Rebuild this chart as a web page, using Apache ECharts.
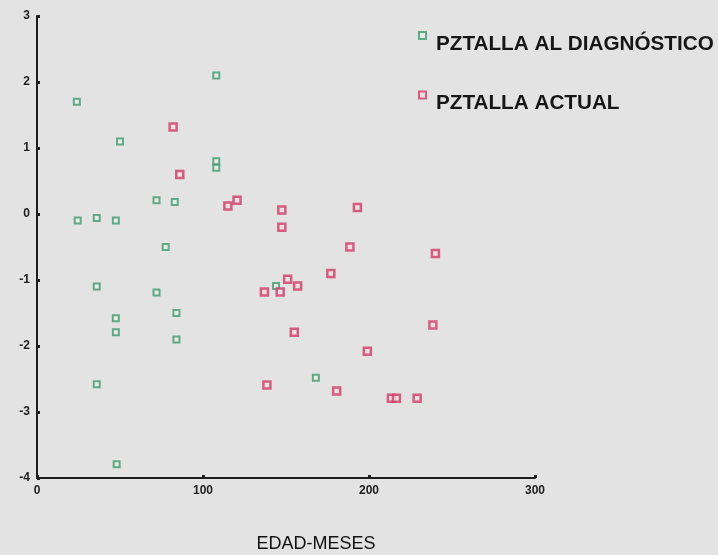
<!DOCTYPE html>
<html>
<head>
<meta charset="utf-8">
<script src="https://cdn.jsdelivr.net/npm/echarts@6/dist/echarts.min.js"></script>
<style>
html,body{margin:0;padding:0;background:#e3e3e3;}
#chart{width:718px;height:555px;}
</style>
</head>
<body>
<div id="chart"></div>
<script>
// Data
var seriesNames = ['PZTALLA AL DIAGNÓSTICO', 'PZTALLA ACTUAL'];
var xAxisTitle = 'EDAD-MESES';
var xTicks = [0, 100, 200, 300];
var yTicks = [-4, -3, -2, -1, 0, 1, 2, 3];

var diagMonths = [24, 108, 50, 108, 108, 72, 83, 24.5, 36, 47.5, 77.5, 36, 72, 84, 47.5, 47.5, 84, 36, 48, 144, 168];
var diagZ      = [1.7, 2.1, 1.1, 0.8, 0.7, 0.21, 0.18, -0.1, -0.06, -0.1, -0.5, -1.1, -1.19, -1.5, -1.58, -1.79, -1.9, -2.58, -3.79, -1.09, -2.48];

var actualMonths = [82, 86, 115, 120.5, 147.5, 147.5, 193, 188.5, 240, 177, 151, 157, 137, 146.5, 238.5, 155, 199, 138.5, 180.5, 213.5, 216.5, 229];
var actualZ      = [1.32, 0.6, 0.12, 0.21, 0.06, -0.2, 0.1, -0.5, -0.6, -0.9, -0.99, -1.09, -1.18, -1.18, -1.68, -1.79, -2.08, -2.59, -2.68, -2.79, -2.79, -2.79];

function pairs(xs, ys) {
  return xs.map(function (x, i) { return [x, ys[i]]; });
}

var chart = echarts.init(document.getElementById('chart'));
var axisColor = '#1e1e1e';
var font = 'Liberation Sans, Arial, sans-serif';

chart.setOption({
  backgroundColor: '#e3e3e3',
  animation: false,
  grid: { left: 37, right: 183, top: 16, bottom: 77, containLabel: false, outerBoundsMode: 'none' },
  legend: {
    orient: 'vertical',
    left: 413,
    top: 26,
    itemGap: 36,
    itemWidth: 7,
    itemHeight: 7,
    data: seriesNames,
    formatter: '{t|{name}}',
    textStyle: {
      rich: {
        t: { fontFamily: font, fontSize: 20.7, fontWeight: 'bold', color: '#161616', padding: [17, 0, 0, 5] }
      }
    }
  },
  xAxis: {
    type: 'value',
    min: xTicks[0],
    max: xTicks[xTicks.length - 1],
    interval: 100,
    name: xAxisTitle,
    nameLocation: 'middle',
    nameGap: 57,
    nameTextStyle: { fontFamily: font, fontSize: 18, color: '#111', padding: [0, 0, 0, 60] },
    axisLine: { onZero: false, lineStyle: { color: axisColor, width: 2 } },
    axisTick: { show: true, inside: true, length: 3, lineStyle: { color: axisColor, width: 3 } },
    axisLabel: { fontFamily: font, fontSize: 12, fontWeight: 'bold', color: '#222', margin: 7 },
    splitLine: { show: false }
  },
  yAxis: {
    type: 'value',
    min: yTicks[0],
    max: yTicks[yTicks.length - 1],
    interval: 1,
    axisLine: { onZero: false, lineStyle: { color: axisColor, width: 2 } },
    axisTick: { show: true, inside: true, length: 3, lineStyle: { color: axisColor, width: 3 } },
    axisLabel: { fontFamily: font, fontSize: 12, fontWeight: 'bold', color: '#222', margin: 7 },
    splitLine: { show: false }
  },
  series: [
    {
      name: seriesNames[0],
      type: 'scatter',
      symbol: 'rect',
      symbolSize: 6,
      data: pairs(diagMonths, diagZ),
      itemStyle: { color: '#e8eee9', borderColor: '#3f9a6e', borderWidth: 2 }
    },
    {
      name: seriesNames[1],
      type: 'scatter',
      symbol: 'rect',
      symbolSize: 7,
      data: pairs(actualMonths, actualZ),
      itemStyle: { color: '#f0dfe4', borderColor: '#cf3b66', borderWidth: 2.5 }
    }
  ]
});
</script>
</body>
</html>
